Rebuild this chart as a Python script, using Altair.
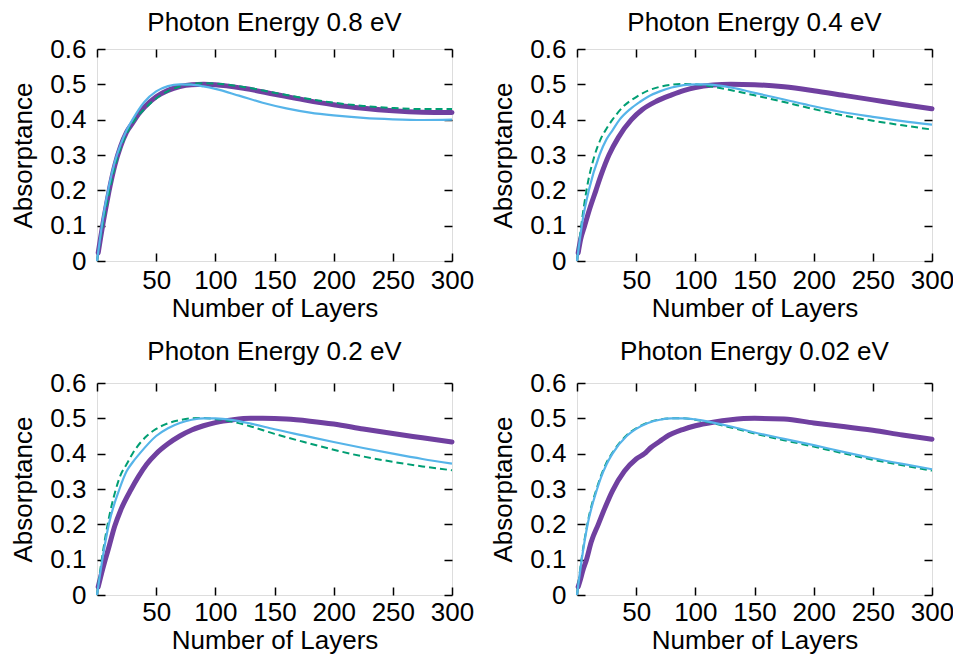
import altair as alt
import pandas as pd

FONT = "Liberation Sans"
FS = 26
PURPLE = "#7040a0"
GREEN = "#009e73"
BLUE = "#56b4e9"

titles = ["Photon Energy 0.8 eV", "Photon Energy 0.4 eV",
          "Photon Energy 0.2 eV", "Photon Energy 0.02 eV"]

x_ticks = [0, 50, 100, 150, 200, 250, 300]
y_ticks = [0, 0.1, 0.2, 0.3, 0.4, 0.5, 0.6]

# ---- Panel 1: 0.8 eV ----
p1_purple_x = [1, 3, 5, 8, 10, 15, 20, 25, 30, 35, 40, 50, 60, 70, 80, 90, 100, 125, 150, 175, 200, 225, 250, 275, 300]
p1_purple_y = [0.023, 0.065, 0.105, 0.16, 0.195, 0.27, 0.325, 0.365, 0.39, 0.415, 0.435, 0.465, 0.483, 0.494, 0.499, 0.5, 0.499, 0.488, 0.472, 0.456, 0.442, 0.432, 0.425, 0.421, 0.42]
p1_green_x = [0, 5, 10, 15, 20, 25, 30, 40, 50, 60, 70, 80, 90, 100, 125, 150, 175, 200, 225, 250, 275, 300]
p1_green_y = [0, 0.105, 0.19, 0.265, 0.32, 0.36, 0.39, 0.43, 0.46, 0.481, 0.494, 0.501, 0.503, 0.502, 0.492, 0.476, 0.461, 0.448, 0.439, 0.433, 0.43, 0.43]
p1_blue_x = [0, 2, 5, 10, 15, 20, 25, 30, 40, 50, 60, 70, 80, 90, 100, 120, 140, 160, 180, 200, 225, 250, 275, 300]
p1_blue_y = [0, 0.05, 0.12, 0.21, 0.28, 0.33, 0.37, 0.40, 0.45, 0.48, 0.495, 0.50, 0.499, 0.494, 0.487, 0.468, 0.448, 0.432, 0.42, 0.412, 0.405, 0.401, 0.399, 0.40]

# ---- Panel 2: 0.4 eV ----
p2_purple_x = [1, 3, 6.5, 10, 16, 20, 27, 35, 46, 55, 67, 80, 90, 100, 115, 130, 150, 175, 200, 225, 250, 275, 300]
p2_purple_y = [0.023, 0.06, 0.1, 0.14, 0.2, 0.24, 0.3, 0.35, 0.4, 0.428, 0.452, 0.47, 0.482, 0.491, 0.498, 0.5, 0.499, 0.493, 0.482, 0.469, 0.456, 0.443, 0.431]
p2_green_x = [0, 4, 8, 15, 20, 25, 30, 40, 50, 60, 70, 80, 90, 100, 110, 125, 150, 175, 200, 225, 250, 275, 300]
p2_green_y = [0, 0.11, 0.2, 0.3, 0.345, 0.375, 0.4, 0.44, 0.464, 0.482, 0.493, 0.499, 0.501, 0.5, 0.496, 0.487, 0.469, 0.45, 0.43, 0.412, 0.397, 0.384, 0.372]
p2_blue_x = [0, 5, 10, 19, 25, 30, 36, 45, 53, 60, 70, 80, 90, 100, 110, 125, 150, 175, 200, 225, 250, 275, 300]
p2_blue_y = [0, 0.12, 0.2, 0.3, 0.345, 0.37, 0.4, 0.43, 0.45, 0.465, 0.48, 0.491, 0.498, 0.5, 0.5, 0.494, 0.476, 0.457, 0.438, 0.421, 0.408, 0.396, 0.386]

# ---- Panel 3: 0.2 eV ----
p3_purple_x = [1, 3, 7, 10, 15, 20, 29, 35, 42, 50, 60, 70, 80, 90, 100, 115, 130, 140, 160, 180, 200, 225, 250, 275, 300]
p3_purple_y = [0.023, 0.05, 0.1, 0.135, 0.195, 0.24, 0.3, 0.335, 0.37, 0.4, 0.428, 0.45, 0.467, 0.479, 0.488, 0.496, 0.5, 0.5, 0.498, 0.492, 0.484, 0.47, 0.457, 0.445, 0.433]
p3_green_x = [0, 4, 9, 16, 20, 25, 30, 42, 50, 60, 70, 80, 90, 100, 115, 130, 150, 175, 200, 225, 250, 275, 300]
p3_green_y = [0, 0.1, 0.2, 0.3, 0.34, 0.37, 0.4, 0.45, 0.47, 0.486, 0.495, 0.5, 0.501, 0.498, 0.49, 0.477, 0.456, 0.433, 0.411, 0.392, 0.377, 0.364, 0.353]
p3_blue_x = [0, 5, 10, 19, 25, 30, 36, 50, 60, 70, 80, 90, 100, 115, 130, 150, 175, 200, 225, 250, 275, 300]
p3_blue_y = [0, 0.11, 0.2, 0.3, 0.35, 0.375, 0.4, 0.45, 0.472, 0.487, 0.496, 0.5, 0.5, 0.495, 0.485, 0.469, 0.451, 0.433, 0.416, 0.4, 0.385, 0.372]

# ---- Panel 4: 0.02 eV ----
p4_purple_x = [1, 3, 5, 8, 12, 18, 24, 30, 40, 50, 57, 62, 70, 75, 90, 100, 115, 130, 150, 175, 200, 225, 250, 275, 300]
p4_purple_y = [0.023, 0.045, 0.07, 0.1, 0.15, 0.2, 0.25, 0.295, 0.35, 0.385, 0.4, 0.416, 0.435, 0.447, 0.469, 0.479, 0.489, 0.496, 0.5, 0.498, 0.487, 0.477, 0.466, 0.453, 0.441]
p4_green_x = [0, 4, 9, 17, 20, 25, 30, 42, 50, 60, 70, 80, 90, 100, 115, 130, 150, 175, 200, 225, 250, 275, 300]
p4_green_y = [0, 0.105, 0.205, 0.305, 0.335, 0.375, 0.403, 0.452, 0.472, 0.488, 0.497, 0.5, 0.5, 0.496, 0.486, 0.474, 0.457, 0.438, 0.42, 0.401, 0.383, 0.367, 0.352]
p4_blue_x = [0, 4, 9, 17, 20, 25, 30, 42, 50, 60, 70, 80, 90, 100, 115, 130, 150, 175, 200, 225, 250, 275, 300]
p4_blue_y = [0, 0.1, 0.2, 0.3, 0.33, 0.37, 0.4, 0.45, 0.47, 0.487, 0.496, 0.5, 0.5, 0.497, 0.488, 0.477, 0.46, 0.442, 0.424, 0.405, 0.387, 0.371, 0.356]

panels_data = [
    (p1_purple_x, p1_purple_y, p1_green_x, p1_green_y, p1_blue_x, p1_blue_y),
    (p2_purple_x, p2_purple_y, p2_green_x, p2_green_y, p2_blue_x, p2_blue_y),
    (p3_purple_x, p3_purple_y, p3_green_x, p3_green_y, p3_blue_x, p3_blue_y),
    (p4_purple_x, p4_purple_y, p4_green_x, p4_green_y, p4_blue_x, p4_blue_y),
]

W, H = 355, 212
TICK = 8


def make_panel(i):
    px, py, gx, gy, bx, by = panels_data[i]
    bottom_row = i >= 2
    xaxis = alt.Axis(
        values=x_ticks,
        labelExpr="datum.value == 0 ? '' : datum.label",
        title="Number of Layers",
        domain=False, ticks=False, tickSize=0,
        labelPadding=25 if bottom_row else 27, labelBaseline="alphabetic",
        labelFlush=False, labelOverlap=False,
        labelFont=FONT, labelFontSize=FS, labelColor="black",
        grid=True, gridColor="black", gridWidth=1.5, gridOpacity=1,
        gridDash=[TICK, H - 2 * TICK],
        titleFont=FONT, titleFontSize=FS, titleFontWeight="normal", titleColor="black",
        titleX=W / 2, titleY=53 if bottom_row else 55,
        titleBaseline="alphabetic", titleAlign="center",
    )
    yaxis = alt.Axis(
        values=y_ticks,
        labelExpr="datum.value == 0 ? '0' : format(datum.value, '.1f')",
        title="Absorptance",
        domain=False, ticks=False, tickSize=0,
        labelPadding=11, labelBaseline="middle",
        labelFlush=False, labelOverlap=False,
        labelFont=FONT, labelFontSize=FS, labelColor="black",
        grid=True, gridColor="black", gridWidth=1.5, gridOpacity=1,
        gridDash=[TICK, W - 2 * TICK],
        titleFont=FONT, titleFontSize=FS, titleFontWeight="normal", titleColor="black",
        titleX=-66, titleY=H / 2, titleAngle=270,
        titleBaseline="alphabetic", titleAlign="center",
    )
    xs = alt.Scale(domain=[0, 300], nice=False, zero=False)
    ys = alt.Scale(domain=[0, 0.6], nice=False)

    dp = pd.DataFrame({"x": px, "y": py})
    dg = pd.DataFrame({"x": gx, "y": gy})
    db = pd.DataFrame({"x": bx, "y": by})

    enc = dict(x=alt.X("x:Q", scale=xs, axis=xaxis), y=alt.Y("y:Q", scale=ys, axis=yaxis))
    purple = alt.Chart(dp).mark_line(color=PURPLE, strokeWidth=5, strokeCap="round",
                                     strokeJoin="round", interpolate="monotone").encode(**enc)
    green = alt.Chart(dg).mark_line(color=GREEN, strokeWidth=2, strokeDash=[7, 4],
                                    interpolate="monotone").encode(**enc)
    blue = alt.Chart(db).mark_line(color=BLUE, strokeWidth=2.2,
                                   interpolate="monotone").encode(**enc)
    return alt.layer(purple, green, blue).properties(
        width=W, height=H,
        title=alt.TitleParams(titles[i], font=FONT, fontSize=FS, fontWeight="normal",
                              color="black", frame="group", anchor="middle",
                              baseline="alphabetic", offset=-16 if bottom_row else -21),
    )


chart = alt.concat(
    *[make_panel(i) for i in range(4)],
    columns=2,
    spacing=alt.RowColnumber(row=122, column=125),
    bounds="flush",
).properties(
    autosize=alt.AutoSizeParams(type="none"),
    padding={"left": 89, "top": 41, "right": 856, "bottom": 605},
).configure_view(stroke="black", strokeWidth=1.5).configure(font=FONT)

chart.save("out.html", embed_options={"renderer": "svg", "actions": False})
